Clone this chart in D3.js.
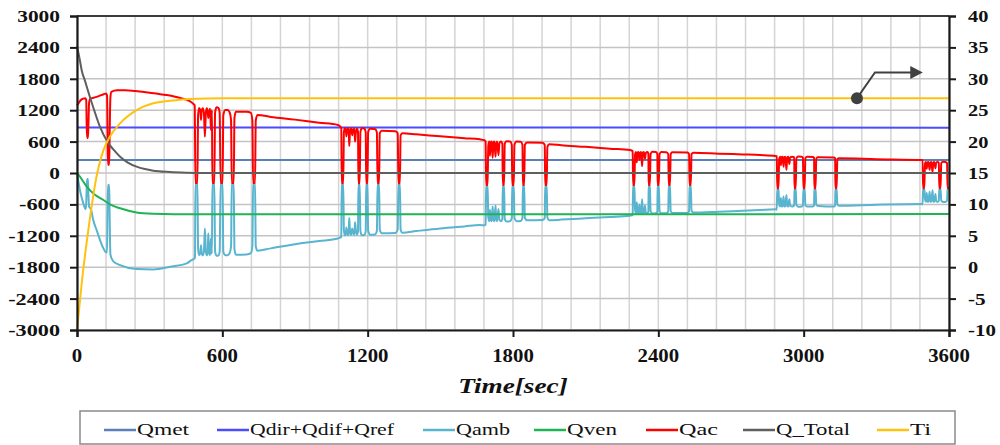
<!DOCTYPE html>
<html><head><meta charset="utf-8">
<script src="https://cdn.jsdelivr.net/npm/d3@7"></script>
<style>
body{margin:0;background:#fff}svg{display:block}
text.st{font-family:"Liberation Serif","DejaVu Serif","Times New Roman",serif;}
</style>
</head><body><svg id="c" width="1000" height="445"></svg>
<script>
// ---------- data (time [s], value) ----------
const leftTicks = [-3000,-2400,-1800,-1200,-600,0,600,1200,1800,2400,3000];
const rightTicks = [-10,-5,0,5,10,15,20,25,30,35,40];
const xTicks = [0,600,1200,1800,2400,3000,3600];
const seriesNames = ["Qmet","Qdir+Qdif+Qref","Qamb","Qven","Qac","Q_Total","Ti"];
const seriesColors = ["#5b7fb8","#4b4bff","#58b4cf","#1fb356","#ff0000","#5f5f5f","#ffc20e"];
const legendTextX = [137,250,456,567,679,776,910];
const legendTextW = [53,145,54,50,39,75,22];

const qmet = [[0,250],[3600,250]];
const qdir = [[0,870],[1500,870],[3600,865]];
const qven = [[0,0],[12,-70],[40,-260],[70,-400],[109,-516],[140,-610],[178,-675],[246,-755],[315,-780],[400,-788],[3600,-785]];
const qtotal = [[0,2420],[10,2200],[20,1950],[33,1760],[50,1500],[71,1200],[95,880],[125,600],[150,450],[178,312],[210,200],[246,121],[280,75],[315,44],[384,19],[450,6],[500,0],[3600,0]];
const ti = [[0,-10],[21,-2],[47,6],[78,13.9],[109,18.6],[136,20.8],[178,22.9],[246,25],[315,26.1],[384,26.5],[466,26.8],[600,26.9],[3600,26.9]];

const qac = [
 [0,1290],[6,1330],[15,1390],[25,1420],[34,1430],[38,1400],[40,900],[42,670],[45,670],[47,900],[50,1350],[55,1420],[70,1440],[90,1470],[110,1505],[120,1520],[124,1480],[126,800],[128,160],[133,160],[135,800],[138,1450],[142,1550],[165,1580],[200,1580],[240,1565],[300,1535],[370,1490],[430,1430],[460,1385],[478,1330],[486,1290],
 [489,-190],[497,-190],[500,1100],[504,1240],[509,1200],[512,1013],[515,1200],[519,1235],[524,1150],[528,694],[532,1150],[536,1235],[540,1150],[542,1052],[545,1150],[549,1230],[551,1100],[553,822],[555,1000],[557,1200],[559,-190],[567,-190],[570,1150],[576,1256],[584,1240],[589,1150],[593,-190],[601,-190],[604,1100],[612,1205],[622,1205],[631,1150],[636,1000],[639,-190],[647,-190],[650,1050],[656,1172],[700,1170],[718,1150],[724,1000],[727,-190],[735,-190],[738,1000],[745,1109],[800,1072],[900,1020],[1000,960],[1077,918],[1088,880],
 [1091,860],[1093,-195],[1099,-195],[1102,780],[1106,860],[1110,820],[1112,700],[1115,820],[1119,860],[1122,780],[1124,520],[1127,780],[1131,855],[1134,800],[1136,720],[1139,800],[1143,855],[1146,780],[1148,600],[1151,760],[1155,850],[1160,800],[1162,-195],[1167,-195],[1170,780],[1176,860],[1186,850],[1192,780],[1194,-195],[1199,-195],[1202,780],[1210,845],[1230,840],[1238,780],[1241,-195],[1247,-195],[1250,760],[1258,805],[1315,800],[1324,760],[1327,-195],[1333,-195],[1336,720],[1343,759],[1400,740],[1500,700],[1600,665],[1663,644],[1682,625],
 [1687,600],[1689,-230],[1695,-230],[1698,520],[1702,600],[1705,330],[1708,590],[1712,600],[1716,290],[1719,590],[1723,600],[1728,310],[1731,580],[1735,595],[1740,340],[1744,570],[1750,600],[1756,560],[1758,-230],[1763,-230],[1766,560],[1773,605],[1788,600],[1795,540],[1797,-230],[1803,-230],[1806,540],[1815,600],[1832,595],[1839,540],[1841,-230],[1846,-230],[1849,540],[1858,585],[1922,580],[1931,540],[1933,-230],[1939,-230],[1942,500],[1950,549],[2000,530],[2100,500],[2200,465],[2283,440],[2292,425],
 [2294,420],[2296,-230],[2301,-230],[2304,350],[2308,400],[2311,200],[2314,390],[2318,400],[2322,250],[2325,390],[2329,400],[2333,130],[2336,390],[2340,400],[2345,270],[2348,380],[2355,400],[2359,370],[2360,-230],[2365,-230],[2368,360],[2375,405],[2390,400],[2396,360],[2397,-230],[2402,-230],[2405,360],[2412,400],[2433,398],[2441,360],[2443,-230],[2448,-230],[2451,360],[2458,395],[2520,392],[2527,360],[2529,-230],[2534,-230],[2537,360],[2545,388],[2650,370],[2750,355],[2820,344],[2885,325],
 [2889,320],[2891,-290],[2896,-290],[2899,270],[2903,312],[2906,150],[2909,305],[2913,312],[2917,120],[2920,305],[2924,312],[2929,60],[2932,300],[2936,312],[2941,170],[2944,300],[2953,312],[2961,300],[2962,-290],[2967,-290],[2970,280],[2977,315],[2992,312],[2997,290],[2999,-290],[3004,-290],[3007,280],[3014,310],[3038,308],[3043,290],[3044,-290],[3049,-290],[3052,280],[3060,300],[3125,296],[3130,280],[3131,-290],[3136,-290],[3139,270],[3146,281],[3300,265],[3487,248],
 [3491,245],[3493,-290],[3498,-290],[3501,180],[3505,210],[3508,80],[3511,200],[3515,210],[3520,60],[3523,200],[3527,210],[3532,20],[3535,200],[3539,210],[3544,90],[3547,200],[3553,208],[3558,190],[3560,-290],[3565,-290],[3568,190],[3575,215],[3585,212],[3592,190],[3594,-290],[3600,-290]
];

const qamb = [
 [0,0],[6,-170],[12,-325],[20,-480],[26,-580],[33,-675],[37,-690],[40,-300],[42,-115],[45,-115],[47,-400],[50,-640],[58,-700],[67,-899],[81,-1090],[95,-1281],[109,-1440],[118,-1510],[124,-1520],[126,-700],[128,-230],[133,-230],[135,-900],[138,-1560],[150,-1690],[178,-1760],[246,-1835],[315,-1842],[384,-1791],[453,-1727],[473,-1664],[484,-1640],
 [487,-1620],[489,-190],[497,-190],[500,-1450],[504,-1570],[509,-1530],[512,-1380],[515,-1540],[519,-1575],[524,-1500],[528,-1060],[532,-1500],[536,-1575],[540,-1500],[542,-1150],[545,-1500],[549,-1570],[551,-1450],[553,-1250],[555,-1450],[557,-1540],[559,-190],[567,-190],[570,-1500],[576,-1580],[584,-1575],[589,-1500],[593,-190],[601,-190],[604,-1500],[612,-1570],[622,-1570],[631,-1520],[636,-1400],[639,-190],[647,-190],[650,-1450],[656,-1560],[700,-1555],[718,-1530],[724,-1400],[727,-190],[735,-190],[738,-1400],[745,-1485],[800,-1440],[900,-1360],[1000,-1300],[1077,-1250],[1088,-1230],
 [1091,-1220],[1093,-195],[1099,-195],[1102,-1100],[1106,-1190],[1110,-1150],[1112,-1040],[1115,-1150],[1119,-1190],[1122,-1100],[1124,-860],[1127,-1100],[1131,-1185],[1134,-1120],[1136,-1060],[1139,-1120],[1143,-1185],[1146,-1100],[1148,-940],[1151,-1080],[1155,-1180],[1160,-1120],[1162,-195],[1167,-195],[1170,-1100],[1176,-1190],[1186,-1185],[1192,-1110],[1194,-195],[1199,-195],[1202,-1100],[1210,-1180],[1230,-1175],[1238,-1110],[1241,-195],[1247,-195],[1250,-1080],[1258,-1150],[1315,-1145],[1324,-1080],[1327,-195],[1333,-195],[1336,-1080],[1343,-1140],[1400,-1110],[1500,-1060],[1600,-1020],[1663,-995],[1682,-1000],
 [1687,-990],[1689,-230],[1695,-230],[1698,-850],[1702,-920],[1705,-700],[1708,-900],[1712,-920],[1716,-640],[1719,-900],[1723,-920],[1728,-620],[1731,-900],[1735,-915],[1740,-690],[1744,-890],[1750,-920],[1756,-880],[1758,-230],[1763,-230],[1766,-880],[1773,-925],[1788,-920],[1795,-860],[1797,-230],[1803,-230],[1806,-860],[1815,-920],[1832,-915],[1839,-860],[1841,-230],[1846,-230],[1849,-860],[1858,-905],[1922,-900],[1931,-860],[1933,-230],[1939,-230],[1942,-850],[1950,-905],[2000,-890],[2100,-865],[2200,-840],[2283,-815],[2292,-810],
 [2294,-800],[2296,-230],[2301,-230],[2304,-700],[2308,-770],[2311,-560],[2314,-760],[2318,-770],[2322,-600],[2325,-760],[2329,-770],[2333,-500],[2336,-760],[2340,-770],[2345,-620],[2348,-750],[2355,-770],[2359,-740],[2360,-230],[2365,-230],[2368,-730],[2375,-775],[2390,-770],[2396,-730],[2397,-230],[2402,-230],[2405,-730],[2412,-770],[2433,-768],[2441,-730],[2443,-230],[2448,-230],[2451,-730],[2458,-765],[2520,-762],[2527,-730],[2529,-230],[2534,-230],[2537,-720],[2545,-757],[2650,-740],[2750,-720],[2820,-707],[2885,-695],
 [2889,-700],[2891,-290],[2896,-290],[2899,-600],[2903,-640],[2906,-480],[2909,-630],[2913,-640],[2917,-450],[2920,-630],[2924,-640],[2929,-420],[2932,-625],[2936,-640],[2941,-500],[2944,-625],[2953,-640],[2961,-620],[2962,-290],[2967,-290],[2970,-610],[2977,-645],[2992,-640],[2997,-620],[2999,-290],[3004,-290],[3007,-610],[3014,-640],[3038,-638],[3043,-620],[3044,-290],[3049,-290],[3052,-610],[3060,-630],[3125,-640],[3130,-620],[3131,-290],[3136,-290],[3139,-600],[3146,-625],[3300,-605],[3487,-590],
 [3491,-595],[3493,-290],[3498,-290],[3501,-500],[3505,-550],[3508,-380],[3511,-540],[3515,-550],[3520,-360],[3523,-540],[3527,-550],[3532,-330],[3535,-540],[3539,-550],[3544,-400],[3547,-540],[3553,-550],[3558,-530],[3560,-290],[3565,-290],[3568,-520],[3575,-555],[3585,-552],[3592,-530],[3594,-290],[3600,-290]
];

// ---------- layout ----------
const svg = d3.select("#c");
const L = 77, R = 949, T = 16, B = 330;
const x = d3.scaleLinear().domain([0,3600]).range([L,R]);
const yL = d3.scaleLinear().domain([-3000,3000]).range([B,T]);
const yR = d3.scaleLinear().domain([-10,40]).range([B,T]);

// text fitted horizontally to the width it has in the reference
function stext(g, px, py, str, o){
  const t = g.append("text").attr("class","st")
    .attr("transform",`translate(${px},${py})`)
    .attr("text-anchor",o.anchor||"start")
    .attr("font-size",o.size)
    .attr("font-weight",o.weight||"normal").attr("font-style",o.style||"normal")
    .attr("fill","#111").text(str);
  if (o.w){
    const w = t.node().getBBox().width;
    if (w > 0) t.attr("transform",`translate(${px},${py}) scale(${o.w/w},1)`);
  }
  return t;
}
const numW = (s,dig,hy)=>[...s].reduce((a,c)=>a+(c==="-"?hy:dig),0);

// grid
const grid = svg.append("g");
grid.selectAll("line.v").data(d3.range(0,3601,120)).join("line")
  .attr("x1",d=>x(d)).attr("x2",d=>x(d)).attr("y1",T).attr("y2",B)
  .attr("stroke","#d4d4d4").attr("stroke-width",1.5);
grid.selectAll("line.h").data(leftTicks).join("line").attr("class","h")
  .attr("x1",L).attr("x2",R).attr("y1",d=>yL(d)).attr("y2",d=>yL(d))
  .attr("stroke","#c4c4c4").attr("stroke-width",1.5);
grid.append("line").attr("x1",L).attr("x2",R).attr("y1",T).attr("y2",T)
  .attr("stroke","#3a3a3a").attr("stroke-width",2);

// series
const lineL = d3.line().x(d=>x(d[0])).y(d=>yL(d[1])).curve(d3.curveMonotoneX);
const lineR = d3.line().x(d=>x(d[0])).y(d=>yR(d[1])).curve(d3.curveMonotoneX);
const series = [qmet,qdir,qamb,qven,qac,qtotal,ti];
series.forEach((s,i)=>{
  svg.append("path").attr("d", i===6 ? lineR(s) : lineL(s))
    .attr("fill","none").attr("stroke",seriesColors[i])
    .attr("stroke-width", 2).attr("stroke-linejoin","round");
});

// axes
const axL = svg.append("g").attr("transform",`translate(${L},0)`)
  .call(d3.axisLeft(yL).tickValues(leftTicks).tickSize(7).tickFormat(""));
const axR = svg.append("g").attr("transform",`translate(${R},0)`)
  .call(d3.axisRight(yR).tickValues(rightTicks).tickSize(7).tickFormat(""));
const axB = svg.append("g").attr("transform",`translate(0,${B})`)
  .call(d3.axisBottom(x).tickValues(xTicks).tickSize(7).tickFormat(""));
[axL,axR,axB].forEach(a=>{
  a.select(".domain").attr("stroke","#1a1a1a").attr("stroke-width",2.2);
  a.selectAll(".tick line").attr("stroke","#1a1a1a").attr("stroke-width",2);
});

const lab = svg.append("g");
leftTicks.forEach(v=>{const s=String(v); stext(lab,60,yL(v)+6,s,{size:16.5,weight:"bold",anchor:"end",w:numW(s,10.7,9)});});
rightTicks.forEach(v=>{const s=String(v); stext(lab,968,yR(v)+6,s,{size:16.5,weight:"bold",anchor:"start",w:numW(s,10.2,7.5)});});
xTicks.forEach(v=>{const s=String(v); stext(lab,x(v),362,s,{size:19,weight:"bold",anchor:"middle",w:numW(s,10.4,8)});});
stext(lab,(L+R)/2,393,"Time[sec]",{size:20,weight:"bold",style:"italic",anchor:"middle",w:110});

// annotation arrow (Ti -> right axis)
const ann = svg.append("g");
const ax0 = x(3220), ay0 = yR(26.9);
ann.append("path").attr("d",`M${ax0},${ay0} L${ax0+18},${yR(31)} L${x(3445)},${yR(31)}`)
  .attr("fill","none").attr("stroke","#404040").attr("stroke-width",2);
ann.append("path").attr("d",`M${x(3440)},${yR(31)-6.5} L${x(3492)},${yR(31)} L${x(3440)},${yR(31)+6.5} Z`)
  .attr("fill","#404040");
ann.append("circle").attr("cx",ax0).attr("cy",ay0).attr("r",6).attr("fill","#404040");

// legend
const lg = svg.append("g");
lg.append("rect").attr("x",80).attr("y",411).attr("width",875).attr("height",33)
  .attr("fill","#fff").attr("stroke","#8a8a8a").attr("stroke-width",1.5);
seriesNames.forEach((n,i)=>{
  const tx = legendTextX[i];
  lg.append("line").attr("x1",tx-33).attr("x2",tx-1).attr("y1",430).attr("y2",430)
    .attr("stroke",seriesColors[i]).attr("stroke-width",2.5);
  stext(lg,tx,435,n,{size:16,anchor:"start",w:legendTextW[i]});
});
</script></body></html>
